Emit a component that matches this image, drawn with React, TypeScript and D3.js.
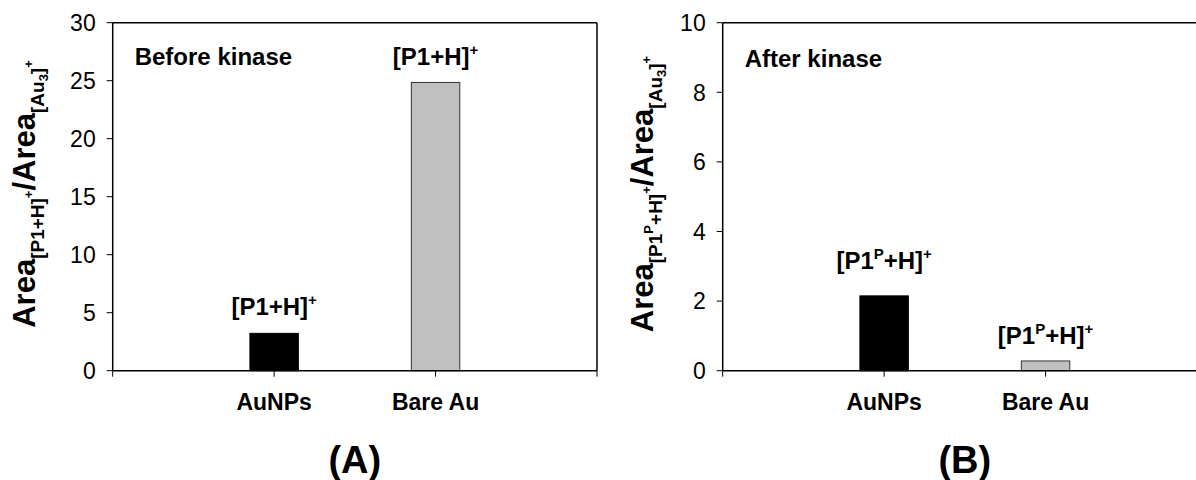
import * as d3 from "d3";
import React from "react";

// categories and values
const categories = ["AuNPs", "Bare Au"];
const beforeValues = [3.22, 24.85];
const afterValues = [2.15, 0.28];
const beforeTicks = [0, 5, 10, 15, 20, 25, 30];
const afterTicks = [0, 2, 4, 6, 8, 10];
const barColors = ["#000000", "#c0c0c0"];

const FONT = "'Liberation Sans', Arial, sans-serif";

const top = 22.7;
const bottom = 370.7;

type PanelProps = {
  x0: number;
  x1: number;
  values: number[];
  ticks: number[];
  title: string;
  titleY: number;
  letter: string;
  phospho: boolean;
  labelX: number;
  labelGaps: number[];
  rightBorder: boolean;
};

const BarLabel = ({ x, y, phospho }: { x: number; y: number; phospho: boolean }) => (
  <text x={x} y={y} textAnchor="middle" fontFamily={FONT} fontWeight="bold" fontSize={24}>
    {phospho ? (
      <>
        <tspan>[P1</tspan>
        <tspan fontSize={15} dy={-10}>P</tspan>
        <tspan dy={10}>+H]</tspan>
      </>
    ) : (
      <tspan>[P1+H]</tspan>
    )}
    <tspan fontSize={15} dy={-10}>+</tspan>
  </text>
);

const YLabel = ({ x, y, phospho }: { x: number; y: number; phospho: boolean }) => (
  <text
    transform={`translate(${x},${y}) rotate(-90)`}
    textAnchor="middle"
    fontFamily={FONT}
    fontWeight="bold"
    fontSize={31}
  >
    <tspan>Area</tspan>
    {phospho ? (
      <>
        <tspan fontSize={19} dy={9}>[P1</tspan>
        <tspan fontSize={13} dy={-9}>P</tspan>
        <tspan fontSize={19} dy={9}>+H]</tspan>
      </>
    ) : (
      <tspan fontSize={19} dy={9}>[P1+H]</tspan>
    )}
    <tspan fontSize={13} dy={-11}>+</tspan>
    <tspan dy={2}>/Area</tspan>
    <tspan fontSize={19} dy={9}>[Au</tspan>
    <tspan fontSize={13} dy={4}>3</tspan>
    <tspan fontSize={19} dy={-4}>]</tspan>
    <tspan fontSize={13} dy={-11}>+</tspan>
  </text>
);

const Panel = (p: PanelProps) => {
  const yMax = p.ticks[p.ticks.length - 1];
  const y = d3.scaleLinear().domain([0, yMax]).range([bottom, top]);
  const x = d3.scalePoint<string>().domain(categories).range([p.x0, p.x1]).padding(1);
  const step = x.step();
  const barW = step * 0.3;
  const boundaries = d3.range(categories.length + 2).map((i) => p.x0 + i * step);

  return (
    <g>
      {p.values.map((v, i) => (
        <rect
          key={i}
          x={(x(categories[i]) as number) - barW / 2}
          y={y(v)}
          width={barW}
          height={bottom - y(v)}
          fill={barColors[i]}
          stroke={i === 0 ? "#000" : "#333"}
          strokeWidth={1}
        />
      ))}
      {/* frame */}
      <line x1={p.x0} x2={p.x1} y1={top} y2={top} stroke="#000" strokeWidth={1.5} />
      {p.rightBorder && <line x1={p.x1} x2={p.x1} y1={top} y2={bottom} stroke="#000" strokeWidth={1.5} />}
      <line x1={p.x0} x2={p.x0} y1={top} y2={bottom} stroke="#000" strokeWidth={1.5} />
      <line x1={p.x0} x2={p.x1} y1={bottom} y2={bottom} stroke="#000" strokeWidth={1.5} />
      {/* y ticks */}
      {p.ticks.map((t) => (
        <g key={t}>
          <line x1={p.x0 - 6} x2={p.x0} y1={y(t)} y2={y(t)} stroke="#000" strokeWidth={1} />
          <text
            x={p.x0 - 17}
            y={y(t)}
            dy="0.36em"
            textAnchor="end"
            fontFamily={FONT}
            fontSize={23}
          >
            {t}
          </text>
        </g>
      ))}
      {/* x ticks */}
      {boundaries.map((bx, i) => (
        <line key={i} x1={bx} x2={bx} y1={bottom} y2={bottom + 6} stroke="#000" strokeWidth={1} />
      ))}
      {categories.map((c) => (
        <text
          key={c}
          x={x(c)}
          y={410}
          textAnchor="middle"
          fontFamily={FONT}
          fontWeight="bold"
          fontSize={23}
        >
          {c}
        </text>
      ))}
      {p.values.map((v, i) => (
        <BarLabel key={i} x={x(categories[i]) as number} y={y(v) - p.labelGaps[i]} phospho={p.phospho} />
      ))}
      <text x={p.x0 + 22} y={p.titleY} fontFamily={FONT} fontWeight="bold" fontSize={24}>
        {p.title}
      </text>
      <YLabel x={p.labelX} y={194} phospho={p.phospho} />
      <text
        x={(p.x0 + p.x1) / 2}
        y={473}
        textAnchor="middle"
        fontFamily={FONT}
        fontWeight="bold"
        fontSize={38}
      >
        {p.letter}
      </text>
    </g>
  );
};

export default function App() {
  return (
    <div style={{ position: "absolute", left: 0, top: 0 }}>
      <svg width={1196} height={480} style={{ display: "block", background: "#fff" }}>
        <Panel
          x0={112.7}
          x1={597}
          values={beforeValues}
          ticks={beforeTicks}
          title="Before kinase"
          titleY={65}
          letter="(A)"
          phospho={false}
          labelX={35}
          labelGaps={[18, 17]}
          rightBorder={true}
        />
        <Panel
          x0={722.7}
          x1={1207}
          values={afterValues}
          ticks={afterTicks}
          title="After kinase"
          titleY={67}
          letter="(B)"
          phospho={true}
          labelX={653}
          labelGaps={[27, 17]}
          rightBorder={false}
        />
      </svg>
    </div>
  );
}
